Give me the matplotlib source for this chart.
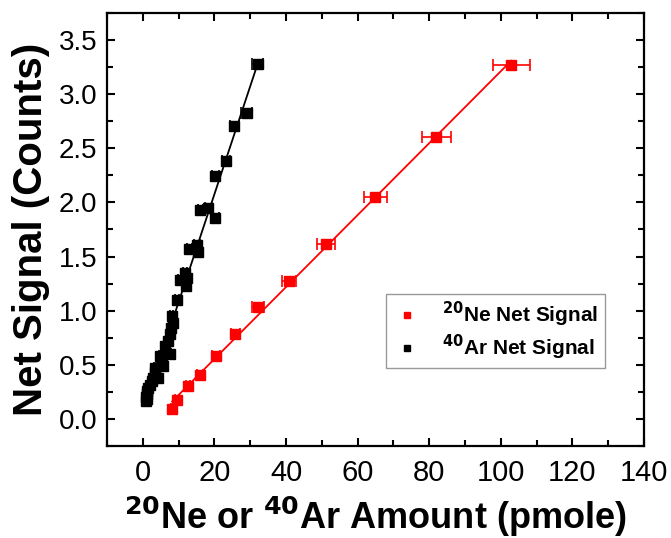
import matplotlib
matplotlib.use('Agg')
import matplotlib.pyplot as plt
import numpy as np

plt.rcParams['font.family'] = ['Liberation Sans', 'DejaVu Sans']

ne_x = [8.2, 9.6, 12.6, 16.0, 20.4, 25.8, 32.2, 40.8, 51.2, 64.9, 82.0, 102.9]
ne_y = [0.09, 0.175, 0.30, 0.41, 0.58, 0.78, 1.03, 1.27, 1.62, 2.05, 2.60, 3.27]

ar_x = [0.9, 1.0, 1.1, 1.2, 1.3, 1.5, 1.9, 2.5, 2.8, 3.4, 3.4, 4.3, 4.8, 5.7, 5.3, 6.2, 7.6,
        7.1, 7.6, 7.9, 8.1, 8.5, 9.5, 10.4, 11.8, 12.4, 12.1, 13.0, 15.1, 15.3, 16.1, 18.3,
        20.2, 20.3, 23.2, 25.6, 29.0, 32.1]
ar_y = [0.17, 0.20, 0.18, 0.23, 0.26, 0.29, 0.31, 0.35, 0.38, 0.43, 0.475, 0.38, 0.58, 0.49,
        0.53, 0.67, 0.60, 0.72, 0.78, 0.84, 0.95, 0.89, 1.10, 1.28, 1.35, 1.30, 1.23, 1.57,
        1.61, 1.54, 1.93, 1.95, 1.86, 2.24, 2.38, 2.71, 2.83, 3.28]

rel_err = 0.05

fig = plt.figure(figsize=(6.71, 5.38), dpi=100)
ax = fig.add_axes([0.1595, 0.171, 0.8003, 0.805])

for xs, ys, c, lab in [(ne_x, ne_y, 'red', r'$^{\mathbf{20}}$Ne Net Signal'),
                       (ar_x, ar_y, 'black', r'$^{\mathbf{40}}$Ar Net Signal')]:
    xs = np.array(xs)
    ys = np.array(ys)
    k, b = np.polyfit(xs, ys, 1)
    xl = np.array([xs.min(), xs.max()])
    ax.plot(xl, k * xl + b, color=c, lw=1.3, zorder=2)
    ax.errorbar(xs, ys, xerr=rel_err * xs, fmt='none', ecolor=c, elinewidth=1.2,
                capsize=4, capthick=1.2, zorder=3)
    ax.plot(xs, ys, 's', color=c, ms=6.5, label=lab, zorder=4)

ax.set_xlim(-10, 140)
ax.set_ylim(-0.25, 3.75)
ax.set_xticks(np.arange(0, 141, 20))
ax.set_xticks(np.arange(-10, 141, 10), minor=True)
ax.set_yticks(np.arange(0, 3.51, 0.5))
ax.set_yticks(np.arange(-0.25, 3.76, 0.25), minor=True)
ax.set_yticklabels(['%.1f' % v for v in np.arange(0, 3.51, 0.5)])
ax.tick_params(which='both', direction='in', top=True, right=True, width=1.5)
ax.tick_params(which='major', length=6)
ax.tick_params(which='minor', length=4)
ax.tick_params(axis='x', which='major', labelsize=21, pad=9)
ax.tick_params(axis='y', which='major', labelsize=20, pad=7)
for s in ax.spines.values():
    s.set_linewidth(1.6)

ax.set_xlabel(r'$^{\mathbf{20}}$Ne or $^{\mathbf{40}}$Ar Amount (pmole)', fontsize=26,
              fontweight='bold', labelpad=6)
ax.set_ylabel('Net Signal (Counts)', fontsize=29, fontweight='bold', labelpad=6)

leg = ax.legend(loc='lower right', bbox_to_anchor=(0.927, 0.18),
                prop={'weight': 'bold', 'size': 15}, handlelength=1.4, markerscale=0.7,
                fancybox=False, edgecolor='gray', borderpad=0.3, labelspacing=0.15,
                handletextpad=1.0, borderaxespad=0)
leg.get_frame().set_linewidth(1.0)

fig.savefig('out.png', dpi=100)
